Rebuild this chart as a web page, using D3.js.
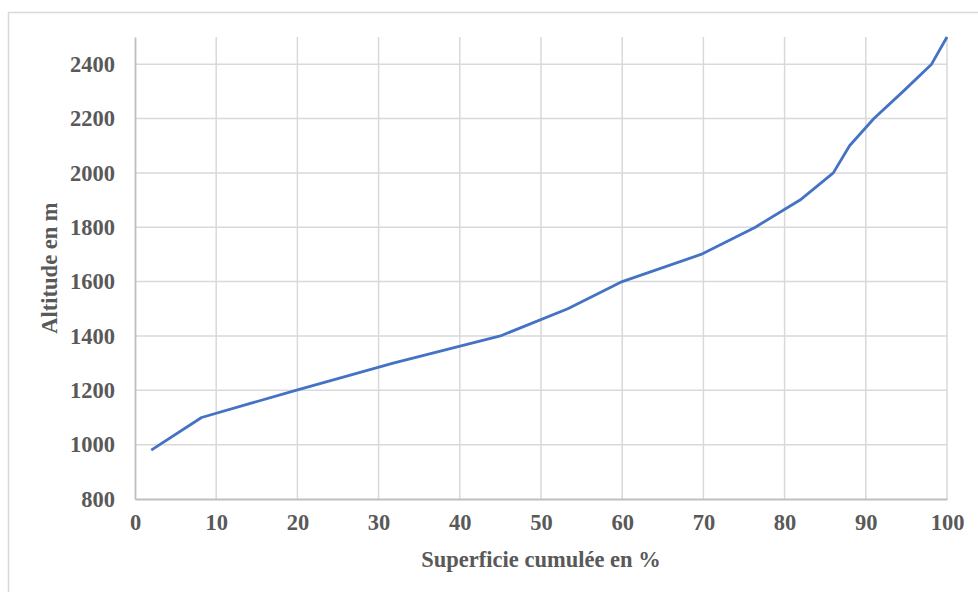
<!DOCTYPE html>
<html>
<head>
<meta charset="utf-8">
<script src="https://cdn.jsdelivr.net/npm/d3@7"></script>
<style>
  body { margin: 0; background: #fff; }
  text { font-family: "Liberation Serif", "Times New Roman", serif; font-weight: bold; fill: #595959; }
</style>
</head>
<body>
<div id="plot"></div>
<script>
// Courbe hypsométrique: superficie cumulée (%) vs altitude (m)
const superficie = [2, 8.2, 19.8, 31.8, 45, 53.3, 60, 69.7, 76.4, 81.9, 86, 88, 91, 94.6, 98.1, 100];
const altitude   = [980, 1100, 1200, 1300, 1400, 1500, 1600, 1700, 1800, 1900, 2000, 2100, 2200, 2300, 2400, 2500];
const xTicks = [0, 10, 20, 30, 40, 50, 60, 70, 80, 90, 100];
const yTicks = [800, 1000, 1200, 1400, 1600, 1800, 2000, 2200, 2400];

const width = 978, height = 592;
const margin = {top: 37, right: 31, bottom: 93, left: 135};
const fontSize = "22.5px";

const svg = d3.select("#plot").append("svg")
  .attr("width", width)
  .attr("height", height);

// cadre extérieur
svg.append("rect")
  .attr("x", 8.5).attr("y", 12.5)
  .attr("width", width + 20).attr("height", height + 20)
  .attr("fill", "none")
  .attr("stroke", "#d9d9d9")
  .attr("stroke-width", 1.5);

const x = d3.scaleLinear([0, 100], [margin.left, width - margin.right]);
const y = d3.scaleLinear([800, 2500], [height - margin.bottom, margin.top]);

// grille
svg.append("g")
  .selectAll("line")
  .data(xTicks.slice(1))
  .join("line")
    .attr("x1", d => x(d)).attr("x2", d => x(d))
    .attr("y1", y(2500)).attr("y2", y(800))
    .attr("stroke", "#d9d9d9")
    .attr("stroke-width", 1.5);
svg.append("g")
  .selectAll("line")
  .data(yTicks.slice(1))
  .join("line")
    .attr("x1", x(0)).attr("x2", x(100))
    .attr("y1", d => y(d)).attr("y2", d => y(d))
    .attr("stroke", "#d9d9d9")
    .attr("stroke-width", 1.5);

// axes
const xAxis = d3.axisBottom(x).tickValues(xTicks).tickFormat(d3.format("d")).tickSize(0).tickPadding(15);
const yAxis = d3.axisLeft(y).tickValues(yTicks).tickFormat(d3.format("d")).tickSize(0).tickPadding(20);

const xG = svg.append("g")
  .attr("transform", `translate(0, ${y(800)})`)
  .call(xAxis);
const yG = svg.append("g")
  .attr("transform", `translate(${x(0)}, 0)`)
  .call(yAxis);

[xG, yG].forEach(g => {
  g.select(".domain").attr("stroke", "#bfbfbf").attr("stroke-width", 1.8);
  g.selectAll("text")
    .style("font-size", fontSize)
    .style("font-family", "'Liberation Serif', serif")
    .attr("fill", "#595959");
});

// courbe
const line = d3.line()
  .x((d, i) => x(superficie[i]))
  .y(d => y(d));
svg.append("path")
  .datum(altitude)
  .attr("d", line)
  .attr("fill", "none")
  .attr("stroke", "#4472c4")
  .attr("stroke-width", 2.8)
  .attr("stroke-linejoin", "round");

// titres des axes
svg.append("text")
  .attr("text-anchor", "middle")
  .attr("x", (x(0) + x(100)) / 2)
  .attr("y", 567)
  .style("font-size", fontSize)
  .text("Superficie cumulée en %");

svg.append("text")
  .attr("text-anchor", "middle")
  .attr("transform", `translate(57, ${(y(800) + y(2500)) / 2}) rotate(-90)`)
  .style("font-size", fontSize)
  .text("Altitude en m");
</script>
</body>
</html>
